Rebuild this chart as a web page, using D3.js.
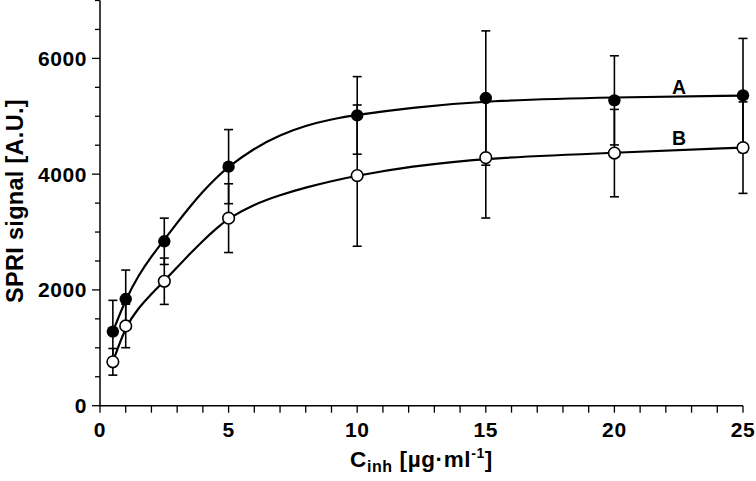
<!DOCTYPE html>
<html><head><meta charset="utf-8">
<script src="https://cdn.jsdelivr.net/npm/d3@7"></script>
<style>
html,body{margin:0;padding:0;background:#fff;}
svg{display:block;font-family:"Liberation Sans",Arial,sans-serif;font-weight:bold;}
</style></head>
<body><svg id="c" width="756" height="481"></svg>
<script>
// Data
const conc = [0.5, 1, 2.5, 5, 10, 15, 20, 25];
const seriesA = [1280, 1843, 2840, 4130, 5015, 5315, 5275, 5360];
const errA    = [540, 500, 400, 640, 670, 1160, 770, 985];
const seriesB = [758, 1378, 2150, 3240, 3975, 4285, 4364, 4458];
const errB    = [230, 376, 400, 594, 1220, 1043, 755, 790];
// fitted curves
const fitX = [0.5, 1, 1.5, 2, 2.5, 3, 3.5, 4, 4.5, 5, 6, 7, 8, 9, 10, 12, 15, 20, 25];
const fitA = [1280, 1843, 2255, 2580, 2870, 3160, 3440, 3700, 3930, 4130, 4450, 4680, 4840, 4950, 5025, 5145, 5270, 5330, 5355];
const fitB = [758, 1378, 1690, 1935, 2155, 2390, 2625, 2850, 3055, 3240, 3480, 3640, 3770, 3880, 3975, 4130, 4280, 4370, 4460];
const xTicks = [0, 5, 10, 15, 20, 25];
const yTicks = [0, 2000, 4000, 6000];
const seriesLabels = ["A", "B"];

const svg = d3.select("#c");
const x = d3.scaleLinear().domain([0, 25]).range([100, 743]);
const y = d3.scaleLinear().domain([0, 7000]).range([405.7, 0.5]);

// y axis
const gy = svg.append("g").attr("transform", "translate(100,0)");
gy.append("line").attr("x1",0).attr("x2",0).attr("y1",y(7000)).attr("y2",y(0)).attr("stroke","#000").attr("stroke-width",1.5);
gy.selectAll(".yt").data(d3.range(0, 7001, 500)).join("line")
  .attr("x1", d => yTicks.includes(d) ? -8 : -5).attr("x2", 0)
  .attr("y1", d => y(d)).attr("y2", d => y(d)).attr("stroke","#000").attr("stroke-width",1.3);
gy.selectAll(".yl").data(yTicks).join("text")
  .attr("x", -13).attr("y", d => y(d)).attr("dy","0.36em")
  .attr("text-anchor","end").attr("font-size",21).attr("letter-spacing",0.6).text(d => d);

// x axis
const gx = svg.append("g").attr("transform", `translate(0,${y(0)})`);
gx.append("line").attr("x1",x(0)).attr("x2",x(25)).attr("stroke","#000").attr("stroke-width",1.5);
gx.selectAll(".xt").data(d3.range(0, 26, 1)).join("line")
  .attr("x1", d => x(d)).attr("x2", d => x(d)).attr("y1",0).attr("y2",7)
  .attr("stroke","#000").attr("stroke-width",1.3);
gx.selectAll(".xl").data(xTicks).join("text")
  .attr("x", d => x(d)).attr("y", 31.5).attr("text-anchor","middle").attr("font-size",21).attr("letter-spacing",0.6).text(d => d);

// axis titles
const yt = svg.append("text").attr("transform","translate(23,201) rotate(-90)")
  .attr("text-anchor","middle").attr("font-size",22).attr("letter-spacing",0.3).text("SPRI signal [A.U.]");
{
  const w = yt.node().getComputedTextLength();
  yt.attr("font-size", Math.min(23.5, 22 * 227 / w).toFixed(2));
}

const xt = svg.append("text").attr("x",421.5).attr("y",467).attr("text-anchor","middle").attr("font-size",22.5).attr("letter-spacing",0.6);
xt.append("tspan").text("C");
xt.append("tspan").attr("font-size",16).attr("dy",5).text("inh");
xt.append("tspan").attr("dy",-5).text(" [µg·ml");
xt.append("tspan").attr("font-size",14).attr("dy",-9).text("-1");
xt.append("tspan").attr("dy",9).text("]");

// fitted curves
const line = d3.line().curve(d3.curveBasis).x(d => x(d[0])).y(d => y(d[1]));
[fitA, fitB].forEach(f => {
  svg.append("path").datum(fitX.map((v,i) => [v, f[i]]))
    .attr("d", line).attr("fill","none").attr("stroke","#000").attr("stroke-width",2.2);
});

// error bars
function errBars(vals, errs) {
  const g = svg.append("g").attr("stroke","#000").attr("stroke-width",1.6);
  conc.forEach((c, i) => {
    const cx = x(c), lo = y(vals[i] - errs[i]), hi = y(vals[i] + errs[i]);
    g.append("line").attr("x1",cx).attr("x2",cx).attr("y1",lo).attr("y2",hi);
    g.append("line").attr("x1",cx-4.5).attr("x2",cx+4.5).attr("y1",lo).attr("y2",lo);
    g.append("line").attr("x1",cx-4.5).attr("x2",cx+4.5).attr("y1",hi).attr("y2",hi);
  });
}
errBars(seriesA, errA);
errBars(seriesB, errB);

// markers
svg.append("g").selectAll("circle").data(conc).join("circle")
  .attr("cx", d => x(d)).attr("cy", (d,i) => y(seriesA[i])).attr("r",6.2).attr("fill","#000");
svg.append("g").selectAll("circle").data(conc).join("circle")
  .attr("cx", d => x(d)).attr("cy", (d,i) => y(seriesB[i])).attr("r",5.8)
  .attr("fill","#fff").attr("stroke","#000").attr("stroke-width",1.6);

// series labels
svg.append("text").attr("x",679).attr("y",93.5).attr("text-anchor","middle").attr("font-size",19.5).text(seriesLabels[0]);
svg.append("text").attr("x",679).attr("y",145).attr("text-anchor","middle").attr("font-size",19.5).text(seriesLabels[1]);
</script></body></html>
